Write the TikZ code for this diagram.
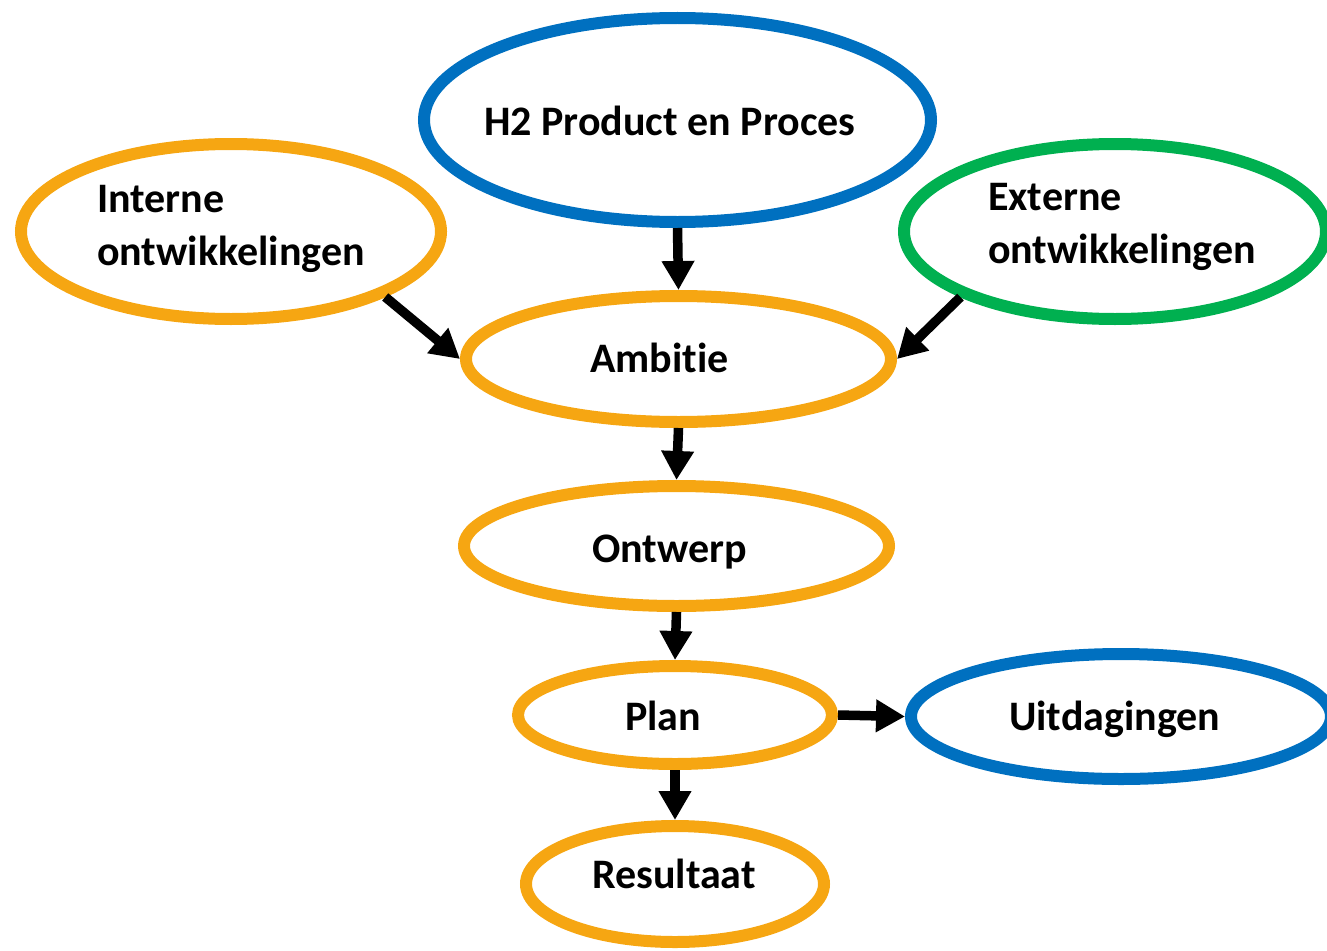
\documentclass[tikz,border=0pt]{standalone}
\usepackage{fontspec}
\setmainfont[Ligatures=NoCommon]{Carlito}
\usetikzlibrary{shapes.geometric,arrows.meta}
\definecolor{orng}{RGB}{246,166,18}
\definecolor{blu}{RGB}{0,112,192}
\definecolor{grn}{RGB}{0,176,80}
\begin{document}
\begin{tikzpicture}[x=1pt,y=-1pt,
  oval/.style={ellipse, draw, line width=12pt, inner sep=0pt},
  lbl/.style={font=\fontsize{42}{53}\selectfont\bfseries, anchor=base west, align=left, inner sep=0pt},
  arr/.style={line width=9.5pt, -{Triangle[width=31pt,length=29pt]}}]
\useasboundingbox (0,0) rectangle (1327,950);
\clip (0,0) rectangle (1327,950);
% ellipses
\node[oval, draw=blu,  minimum width=507pt, minimum height=204pt] (h2)   at (677.5,120) {};
\node[oval, draw=orng, minimum width=420pt, minimum height=175pt] (int)  at (231,231.5) {};
\node[oval, draw=grn,  minimum width=422pt, minimum height=175pt] (ext)  at (1115,231.5) {};
\node[oval, draw=orng, minimum width=425pt, minimum height=126pt] (amb)  at (678.5,359) {};
\node[oval, draw=orng, minimum width=425pt, minimum height=120pt] (ont)  at (676.5,546) {};
\node[oval, draw=orng, minimum width=314pt, minimum height=98pt]  (plan) at (675,715) {};
\node[oval, draw=blu,  minimum width=420pt, minimum height=125pt] (uit)  at (1121,716.5) {};
\node[oval, draw=orng, minimum width=298pt, minimum height=116pt] (res)  at (675,884) {};
% labels
\node[lbl] (h2t)   at (484,135)  {H2 Product en Proces};
\node[lbl] (intt)  at (97,265)   {Interne\\ontwikkelingen};
\node[lbl] (extt)  at (988,263)  {Externe\\ontwikkelingen};
\node[lbl] (ambt)  at (590,372)  {Ambitie};
\node[lbl] (ontt)  at (592,562)  {Ontwerp};
\node[lbl] (plant) at (625,730)  {Plan};
\node[lbl] (uitt)  at (1009,730) {Uitdagingen};
\node[lbl] (rest)  at (592,888)  {Resultaat};
% arrows
\draw[arr] (h2.south) -- (amb.north);
\draw[arr] (int.-23) -- (amb.west);
\draw[arr] (ext.203) -- (amb.east);
\draw[arr] (amb.south) -- (ont.north);
\draw[arr] (ont.south) -- (plan.north);
\draw[arr] (plan.south) -- (res.north);
\draw[arr] (plan.east) -- (uit.west);
\end{tikzpicture}
\end{document}
